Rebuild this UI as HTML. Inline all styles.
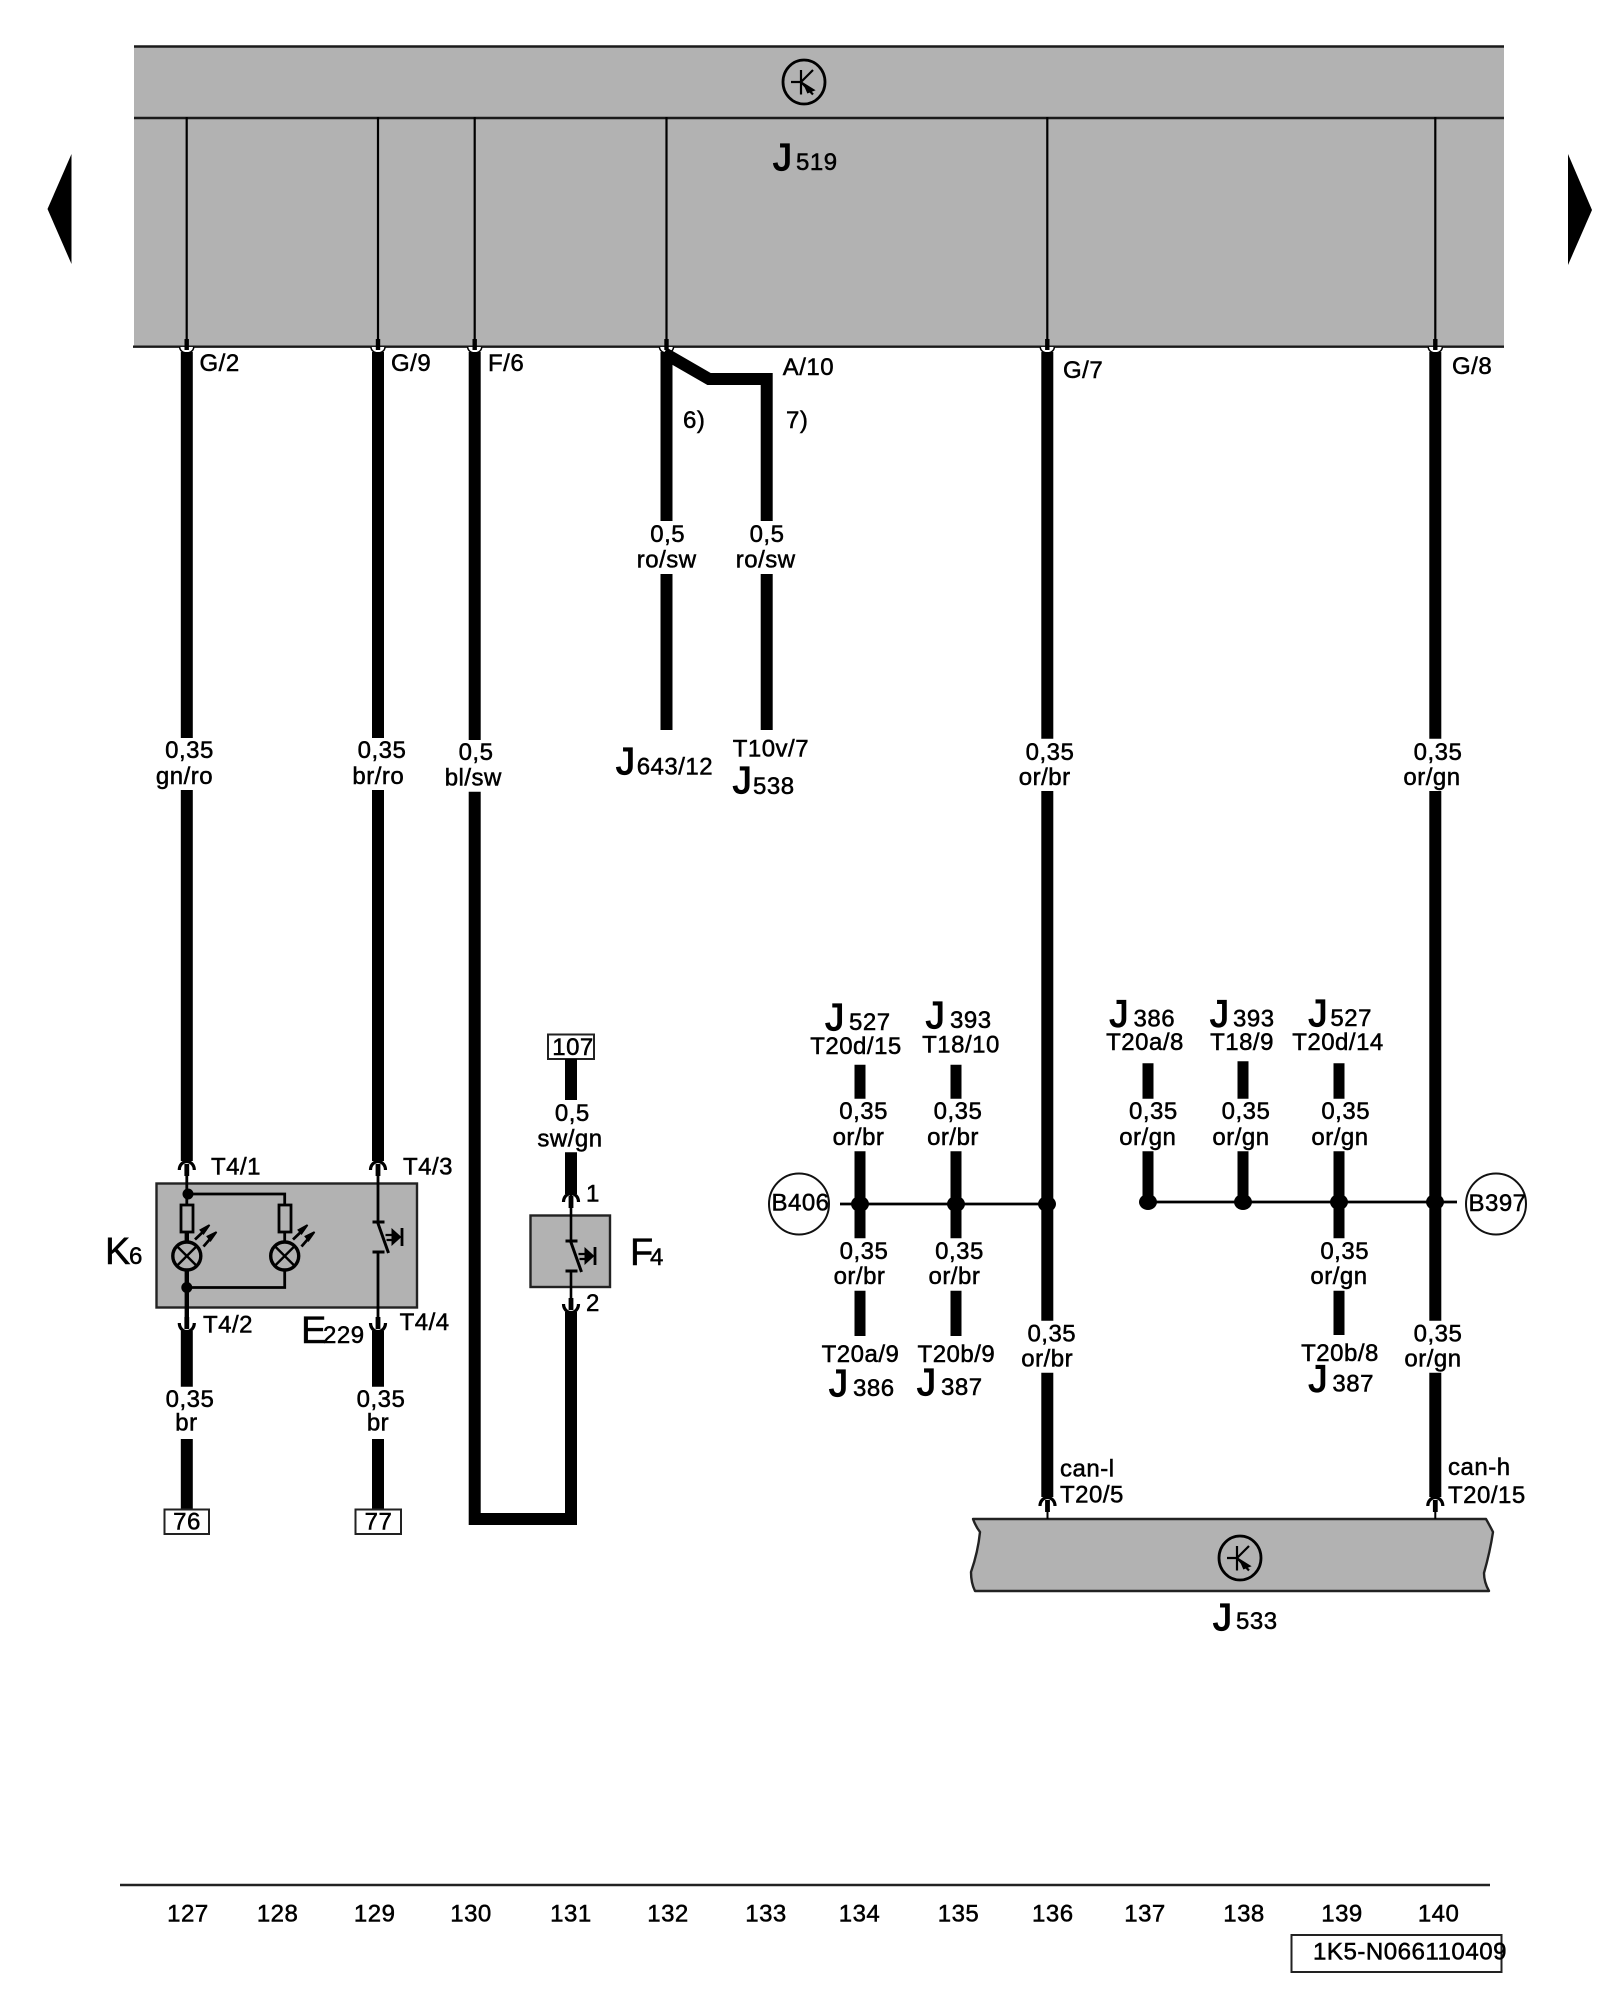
<!DOCTYPE html>
<html><head><meta charset="utf-8"><title>Wiring diagram</title>
<style>
html,body{margin:0;padding:0;background:#fff;width:1600px;height:2000px;overflow:hidden}
svg{display:block}
text{font-family:"Liberation Sans",sans-serif;font-size:24px;letter-spacing:.5px;fill:#000;stroke:#000;stroke-width:.5}
.m{text-anchor:middle}
.j{font-size:38px;stroke-width:1.2}
.b{font-size:38px;stroke-width:.5}
.w{stroke:#000;stroke-width:12;fill:none}
.s{stroke:#000;stroke-width:11;fill:none}
.t{stroke:#000;stroke-width:2.8;fill:none}
</style></head><body>
<svg width="1600" height="2000" viewBox="0 0 1600 2000" xmlns="http://www.w3.org/2000/svg">
<defs>
<g id="up"><path d="M-7.5,9 A7.5,8.5 0 0 1 7.5,9" fill="none" stroke="#000" stroke-width="3.2"/><rect x="-2.4" y="3" width="4.8" height="12"/></g>
<g id="dn"><path d="M-7.5,-9 A7.5,8.5 0 0 0 7.5,-9" fill="none" stroke="#000" stroke-width="3.2"/><rect x="-2.4" y="-15" width="4.8" height="12"/></g>
<g id="top"><path d="M-7,0 A7,6 0 0 0 7,0" fill="#fff" stroke="#000" stroke-width="1.5"/><rect x="-2.2" y="-8" width="4.4" height="11"/></g>
<g id="led">
<path d="M195,1239.5L206,1229M203.5,1246.5L213,1235.5" stroke="#000" stroke-width="2.8" fill="none"/>
<path d="M209.5,1225L203.5,1233.5L200.5,1230ZM216.5,1232L210.5,1240.5L207.5,1236.5Z" stroke="#000" stroke-width="1.8"/>
</g>
<g id="lamp"><circle cx="0" cy="0" r="14" fill="#b2b2b2" stroke="#000" stroke-width="3.4"/><path d="M-9.9,-9.9L9.9,9.9M-9.9,9.9L9.9,-9.9" stroke="#000" stroke-width="2.4"/></g>
<g id="xst"><ellipse cx="0" cy="0" rx="21" ry="22" fill="none" stroke="#000" stroke-width="2.8"/><path d="M-13,0H-3M-3,-12V12.5M-3,0L9,-12M-3,0L9,12.5" stroke="#000" stroke-width="2.2" fill="none"/><path d="M1,3L9,8L4,10Z" stroke="#000" stroke-width="2.4"/></g>
<g id="sw"><path d="M-5,0H7M-5,30H7M0,0L11,31" stroke="#000" stroke-width="3" fill="none"/><path d="M8,13H17M9,18H17" stroke="#000" stroke-width="2.2"/><path d="M14,6L24,15L14,24Z"/><path d="M24.5,6V24" stroke="#000" stroke-width="2.8"/></g>
</defs>

<!-- J519 block -->
<rect x="134" y="46" width="1370" height="301" fill="#b2b2b2"/>
<path d="M134,46.5H1504M134,118H1504M133,346.7H1504" stroke="#1a1a1a" stroke-width="2.4" fill="none"/>
<use href="#xst" x="804" y="82"/>
<text class="j" x="773" y="170">J</text><text x="796" y="170">519</text>
<path d="M186.7,117V345M378,117V345M474.7,117V345M666.5,117V345M1047.3,117V345M1435.3,117V345" stroke="#000" stroke-width="2.2"/>
<polygon points="71.5,154 47.5,209 71.5,264"/>
<polygon points="1568,154 1592,210 1568,265"/>

<!-- top connectors -->
<use href="#top" x="186.7" y="347"/><use href="#top" x="378" y="347"/><use href="#top" x="474.7" y="347"/>
<use href="#top" x="666.5" y="347"/><use href="#top" x="1047.3" y="347"/><use href="#top" x="1435.3" y="347"/>

<text x="199.5" y="371">G/2</text><text x="391" y="371">G/9</text><text x="488" y="371">F/6</text>
<text x="782.7" y="375">A/10</text><text x="683" y="428">6)</text><text x="786" y="428">7)</text>
<text x="1063" y="378">G/7</text><text x="1452" y="374">G/8</text>

<!-- main wires -->
<path class="w" d="M186.8,352V738M186.8,790V1161M378,352V738M378,790V1161M474.7,352V740M474.7,791.7V1519H571V1312"/>
<path class="w" d="M666.5,352V521M666.5,574V730"/>
<path class="w" d="M664,353L709,379H766.7V521M766.7,574V730"/>
<path class="w" d="M1047.3,352V738.7M1047.3,791V1320.7M1047.3,1372.7V1497M1435.3,352V738.7M1435.3,791V1320.7M1435.3,1372.7V1497"/>

<text class="m" x="189.5" y="758">0,35</text><text class="m" x="184.5" y="784">gn/ro</text>
<text class="m" x="382" y="758">0,35</text><text class="m" x="378.3" y="784">br/ro</text>
<text class="m" x="476" y="760">0,5</text><text class="m" x="473.3" y="785.7">bl/sw</text>
<text class="m" x="667.7" y="542">0,5</text><text class="m" x="666.7" y="567.7">ro/sw</text>
<text class="m" x="767" y="542">0,5</text><text class="m" x="765.7" y="567.7">ro/sw</text>
<text class="m" x="1050" y="760">0,35</text><text class="m" x="1044.7" y="785">or/br</text>
<text class="m" x="1438" y="760">0,35</text><text class="m" x="1432" y="785">or/gn</text>

<text class="j" x="616" y="774">J</text><text x="636.7" y="774.7">643/12</text>
<text x="732.7" y="756.7">T10v/7</text>
<text class="j" x="732.7" y="793">J</text><text x="753" y="794">538</text>

<!-- K6 / E229 -->
<rect x="156.5" y="1183.5" width="260.5" height="124" fill="#b2b2b2" stroke="#222" stroke-width="2.4"/>
<path d="M186.8,1165V1327M378,1165V1222M378,1252V1327" stroke="#000" stroke-width="2.8" fill="none"/>
<path d="M186.8,1232V1243M186.8,1270V1327" stroke="#000" stroke-width="4.4" fill="none"/>
<path d="M188,1194H284.7V1205M186.8,1287.5H284.7V1270M284.7,1232V1243" stroke="#000" stroke-width="2.8" fill="none"/>
<rect x="181" y="1205" width="12" height="27" fill="#b2b2b2" stroke="#000" stroke-width="2.8"/>
<rect x="279" y="1205" width="12" height="27" fill="#b2b2b2" stroke="#000" stroke-width="2.8"/>
<circle cx="188" cy="1194" r="5.5"/><circle cx="186.8" cy="1287.5" r="5.5"/>
<use href="#lamp" x="186.8" y="1256"/><use href="#lamp" x="284.7" y="1256"/>
<use href="#led"/><use href="#led" x="98"/>
<use href="#sw" x="377.5" y="1222"/>

<use href="#up" x="186.8" y="1161"/><use href="#up" x="378" y="1161"/>
<use href="#dn" x="186.8" y="1332"/><use href="#dn" x="378" y="1332"/>

<path class="w" d="M186.8,1331V1386.7M186.8,1439V1510M378,1331V1386.7M378,1439V1510"/>
<text x="211" y="1174.3">T4/1</text><text x="403" y="1174.3">T4/3</text>
<text x="203" y="1332.7">T4/2</text><text x="399.6" y="1330">T4/4</text>
<text class="b" x="105" y="1264">K</text><text x="129" y="1264">6</text>
<text class="b" x="301" y="1343">E</text><text x="323" y="1343">229</text>
<text class="m" x="190" y="1407">0,35</text><text class="m" x="186.4" y="1430.7">br</text>
<text class="m" x="381" y="1407">0,35</text><text class="m" x="378" y="1430.7">br</text>
<rect x="164.5" y="1509.5" width="44.5" height="24.5" fill="#fff" stroke="#222" stroke-width="2"/>
<text class="m" x="187" y="1529.5">76</text>
<rect x="355.5" y="1509.5" width="45.5" height="24.5" fill="#fff" stroke="#222" stroke-width="2"/>
<text class="m" x="378.5" y="1529.5">77</text>

<!-- F4 -->
<rect x="548" y="1034.5" width="46" height="24.5" fill="#fff" stroke="#222" stroke-width="2"/>
<text class="m" x="573" y="1055">107</text>
<path class="w" d="M571,1059V1100M571,1152.3V1194"/>
<text class="m" x="572.3" y="1121">0,5</text><text class="m" x="570" y="1146.7">sw/gn</text>
<rect x="530.5" y="1215.5" width="79.5" height="71.5" fill="#b2b2b2" stroke="#222" stroke-width="2.4"/>
<path d="M571,1195V1241M571,1271V1305" stroke="#000" stroke-width="2.6"/>
<use href="#sw" x="570.5" y="1241"/>
<use href="#up" x="571" y="1193"/><use href="#dn" x="571" y="1313"/>
<text x="586" y="1201.7">1</text><text x="586" y="1311">2</text>
<text class="b" x="630" y="1265">F</text><text x="650" y="1265">4</text>

<!-- left splice B406 -->
<path class="s" d="M860,1064.7V1098.7M860,1151.3V1238.3M860,1290.7V1336M956,1064.7V1098.7M956,1151.3V1238.3M956,1290.7V1336"/>
<path class="t" d="M840,1204H1047"/>
<ellipse cx="860" cy="1204" rx="9" ry="8"/><ellipse cx="956" cy="1204" rx="9" ry="8"/><ellipse cx="1047" cy="1204" rx="9" ry="8"/>
<ellipse cx="799" cy="1204" rx="30" ry="30.5" fill="#fff" stroke="#111" stroke-width="2"/>
<text class="m" x="800.5" y="1210.5">B406</text>
<text class="j" x="825.3" y="1030">J</text><text x="849" y="1030">527</text>
<text class="j" x="925.8" y="1028">J</text><text x="950" y="1028">393</text>
<text class="m" x="856" y="1054">T20d/15</text><text class="m" x="961" y="1052.5">T18/10</text>
<text class="m" x="863.6" y="1119">0,35</text><text class="m" x="858.5" y="1145">or/br</text>
<text class="m" x="958" y="1119">0,35</text><text class="m" x="953" y="1145">or/br</text>
<text class="m" x="864" y="1259">0,35</text><text class="m" x="859.5" y="1284">or/br</text>
<text class="m" x="959.5" y="1259">0,35</text><text class="m" x="954.4" y="1284">or/br</text>
<text class="m" x="860.5" y="1362">T20a/9</text><text class="m" x="956.4" y="1362">T20b/9</text>
<text class="j" x="829" y="1396">J</text><text x="853" y="1396">386</text>
<text class="j" x="917" y="1395">J</text><text x="941" y="1395">387</text>
<text class="m" x="1051.8" y="1341.7">0,35</text><text class="m" x="1047.2" y="1366.7">or/br</text>

<!-- right splice B397 -->
<path class="s" d="M1148,1063.3V1098.7M1148,1151.3V1202M1243,1061.3V1098.7M1243,1151.3V1202M1339,1063.3V1098.7M1339,1151.3V1238.3M1339,1290.7V1335"/>
<path class="t" d="M1148,1202H1457"/>
<ellipse cx="1148" cy="1202" rx="9" ry="8"/><ellipse cx="1243" cy="1202" rx="9" ry="8"/><ellipse cx="1339" cy="1202" rx="9" ry="8"/><ellipse cx="1435" cy="1202" rx="9" ry="8"/>
<ellipse cx="1496" cy="1204" rx="30" ry="30.5" fill="#fff" stroke="#111" stroke-width="2"/>
<text class="m" x="1497.5" y="1211">B397</text>
<text class="j" x="1109.5" y="1026.7">J</text><text x="1133.5" y="1026.7">386</text>
<text class="j" x="1210" y="1026.7">J</text><text x="1233" y="1026.7">393</text>
<text class="j" x="1308.5" y="1026">J</text><text x="1330.4" y="1026">527</text>
<text class="m" x="1145" y="1050">T20a/8</text><text class="m" x="1242" y="1050">T18/9</text><text class="m" x="1338" y="1050">T20d/14</text>
<text class="m" x="1153.4" y="1119">0,35</text><text class="m" x="1147.8" y="1145">or/gn</text>
<text class="m" x="1246" y="1119">0,35</text><text class="m" x="1241" y="1145">or/gn</text>
<text class="m" x="1345.7" y="1119">0,35</text><text class="m" x="1340" y="1145">or/gn</text>
<text class="m" x="1344.7" y="1259">0,35</text><text class="m" x="1339" y="1284">or/gn</text>
<text class="m" x="1340" y="1361">T20b/8</text>
<text class="j" x="1308.5" y="1391.7">J</text><text x="1332.4" y="1391.7">387</text>
<text class="m" x="1438" y="1341.7">0,35</text><text class="m" x="1433" y="1366.7">or/gn</text>

<!-- J533 -->
<path d="M973,1519 Q976,1527 980,1532 Q978,1552 971,1572 Q971,1583 975,1591 L1489,1591 Q1484,1582 1484,1573 Q1490,1552 1493,1532 Q1490,1526 1486,1519 Z" fill="#b2b2b2" stroke="#222" stroke-width="2.4" stroke-linejoin="round"/>
<use href="#xst" x="1240" y="1558"/>
<path d="M1047.5,1505V1519M1435.3,1505V1519" stroke="#000" stroke-width="2"/>
<use href="#up" x="1047.5" y="1497"/><use href="#up" x="1435.3" y="1497"/>
<text x="1060" y="1476.7">can-l</text><text x="1060" y="1502.7">T20/5</text>
<text x="1448" y="1475">can-h</text><text x="1448" y="1503">T20/15</text>
<text class="j" x="1213" y="1630">J</text><text x="1236" y="1629">533</text>

<!-- footer -->
<path d="M120,1885H1490" stroke="#222" stroke-width="2.4"/>
<text class="m" x="187.9" y="1921.7">127</text><text class="m" x="277.6" y="1921.7">128</text><text class="m" x="374.7" y="1921.7">129</text><text class="m" x="471" y="1921.7">130</text>
<text class="m" x="570.9" y="1921.7">131</text><text class="m" x="668" y="1921.7">132</text><text class="m" x="766" y="1921.7">133</text><text class="m" x="859.5" y="1921.7">134</text>
<text class="m" x="958.5" y="1921.7">135</text><text class="m" x="1052.8" y="1921.7">136</text><text class="m" x="1145" y="1921.7">137</text><text class="m" x="1244" y="1921.7">138</text>
<text class="m" x="1342" y="1921.7">139</text><text class="m" x="1438.6" y="1921.7">140</text>
<rect x="1291.5" y="1935" width="210" height="37" fill="#fff" stroke="#222" stroke-width="2"/>
<text x="1313" y="1959.5" textLength="194" lengthAdjust="spacingAndGlyphs">1K5-N066110409</text>
</svg>
</body></html>
